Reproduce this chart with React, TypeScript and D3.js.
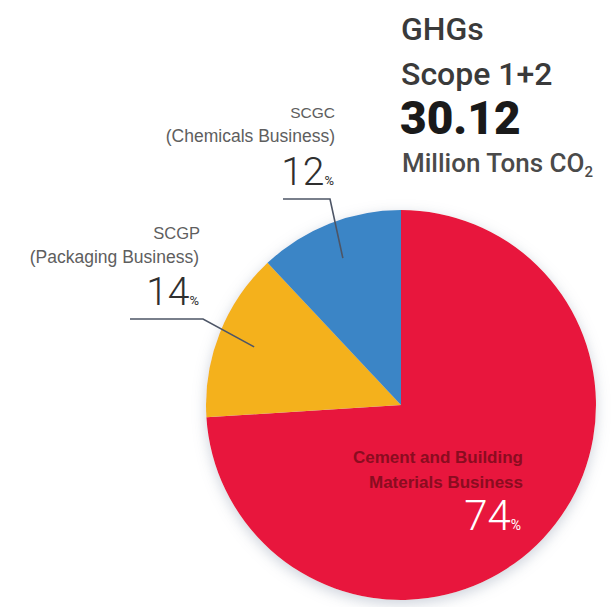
import React from "react";
import * as d3 from "d3";

const segments = ["Cement and Building Materials Business", "SCGP (Packaging Business)", "SCGC (Chemicals Business)"];
const values = [74, 14, 12];
const colors = ["#e8193c", "#f4b11e", "#3a85c6"];
const titleLines = ["GHGs", "Scope 1+2"];
const totalValue = "30.12";
const unitText = "Million Tons CO";

const W = 616;
const H = 607;
const cx = 401;
const cy = 405;
const R = 195;

export default function App() {
  const pie = d3.pie<number>().sort(null).value((d) => d).startAngle(0).endAngle(2 * Math.PI);
  const arcs = pie(values);
  const arc = d3.arc<d3.PieArcDatum<number>>().innerRadius(0).outerRadius(R);
  const leaderArc = d3.arc<d3.PieArcDatum<number>>().innerRadius(R * 0.81).outerRadius(R * 0.81);

  const blueEnd = leaderArc.centroid(arcs[2]);
  const yellowEnd = leaderArc.centroid(arcs[1]);

  const labelFont = "'Liberation Sans', Arial, sans-serif";
  const numFont = "Roboto, 'Open Sans', sans-serif";

  return (
    <svg width={W} height={H} style={{ position: "absolute", left: 0, top: 0, background: "#fff" }}>
      <defs>
        <filter id="sh" x="-20%" y="-20%" width="140%" height="140%">
          <feDropShadow dx="0" dy="4" stdDeviation="7" floodColor="#8f9bb0" floodOpacity="0.45" />
        </filter>
      </defs>

      {/* Title */}
      <g fontFamily={numFont} fill="#333">
        <text x={401} y={40} fontSize={32} fontWeight={500} fill="#3a3a3a">{titleLines[0]}</text>
        <text x={401} y={85} fontSize={32} fontWeight={500} fill="#3a3a3a">{titleLines[1]}</text>
        <text x={400} y={134} fontSize={46} fontWeight={900} fill="#1a1a1a">{totalValue}</text>
        <text x={402} y={172} fontSize={26} fontWeight={500} fill="#4a4a4a">
          {unitText}
          <tspan fontSize={15} dy={5}>2</tspan>
        </text>
      </g>

      {/* Pie */}
      <g transform={`translate(${cx},${cy})`} filter="url(#sh)">
        {arcs.map((a, i) => (
          <path key={segments[i]} d={arc(a) || ""} fill={colors[i]} />
        ))}
      </g>

      {/* Leader lines */}
      <polyline
        points={`283,199 330,199 ${cx + blueEnd[0]},${cy + blueEnd[1]}`}
        fill="none"
        stroke="#4d5566"
        strokeWidth={1.6}
      />
      <polyline
        points={`130,319 203,319 ${cx + yellowEnd[0]},${cy + yellowEnd[1]}`}
        fill="none"
        stroke="#4d5566"
        strokeWidth={1.6}
      />

      {/* SCGC label */}
      <g fontFamily={labelFont} fill="#5e5e5e" textAnchor="end">
        <text x={335} y={118} fontSize={15.5}>SCGC</text>
        <text x={335} y={142} fontSize={17.5}>(Chemicals Business)</text>
        <text x={334} y={185} fontFamily={numFont} fontWeight={300} fontSize={39} fill="#2f2f2f">
          {values[2]}
          <tspan fontSize={13} fontWeight={400}>%</tspan>
        </text>
      </g>

      {/* SCGP label */}
      <g fontFamily={labelFont} fill="#5e5e5e" textAnchor="end">
        <text x={200} y={239} fontSize={16.5}>SCGP</text>
        <text x={199} y={263} fontSize={17.5}>(Packaging Business)</text>
        <text x={199} y={305} fontFamily={numFont} fontWeight={300} fontSize={39} fill="#2f2f2f">
          {values[1]}
          <tspan fontSize={13} fontWeight={400}>%</tspan>
        </text>
      </g>

      {/* Cement label */}
      <g fontFamily={labelFont} textAnchor="end">
        <text x={523} y={463} fontSize={17} fontWeight={700} fill="#8a0c20">Cement and Building</text>
        <text x={523} y={488} fontSize={17} fontWeight={700} fill="#8a0c20">Materials Business</text>
        <text x={521} y={530} fontFamily={numFont} fontWeight={300} fontSize={42} fill="#ffffff">
          {values[0]}
          <tspan fontSize={14} fontWeight={400}>%</tspan>
        </text>
      </g>
    </svg>
  );
}
